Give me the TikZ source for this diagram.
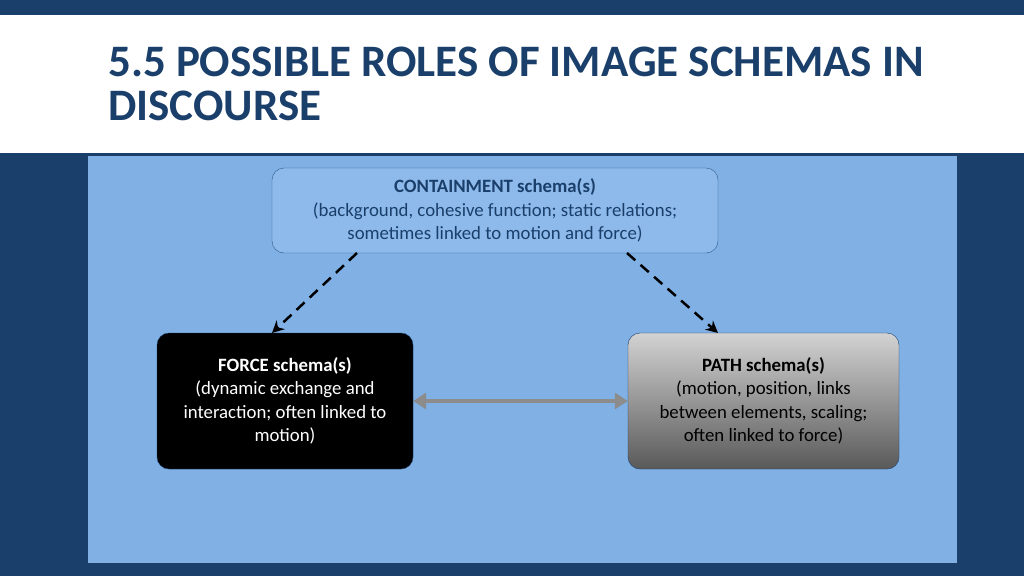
\documentclass[tikz,border=0pt]{standalone}
\usepackage{fontspec}
\setmainfont{Carlito}
\usetikzlibrary{arrows.meta}
\definecolor{navy}{HTML}{1B3F6B}
\definecolor{panel}{HTML}{80B0E4}
\definecolor{cbox}{HTML}{8DBAEA}
\definecolor{cborder}{HTML}{2E5A8C}
\begin{document}
\begin{tikzpicture}[x=1pt,y=-1pt,
  box/.style={rounded corners=12pt,align=center,font=\fontsize{18.8}{23.5}\selectfont,inner sep=0pt},
  dashline/.style={line width=2.5pt,dash pattern=on 11pt off 7pt,-{Stealth[length=12pt,width=12pt]}}]
\useasboundingbox (0,0) rectangle (1024,576);
\fill[navy] (0,0) rectangle (1024,576);
\fill[white] (0,15) rectangle (1024,153);
\fill[panel] (88,156) rectangle (957,563);
\node[anchor=west,text=navy,font=\fontsize{45}{44}\selectfont\bfseries,align=left,inner sep=0pt] (title) at (108,84) {5.5 POSSIBLE ROLES OF IMAGE SCHEMAS IN\\DISCOURSE};
\node[box,draw=cborder,fill=cbox,text=navy,minimum width=446pt,minimum height=85pt] (c) at (495,210.5)
 {\textbf{CONTAINMENT schema(s)}\\(background, cohesive function; static relations;\\sometimes linked to motion and force)};
\node[box,draw=navy,fill=black,text=white,minimum width=256pt,minimum height=136pt] (f) at (285,401)
 {\textbf{FORCE schema(s)}\\(dynamic exchange and\\interaction; often linked to\\motion)};
\shade[top color=gray!35,bottom color=gray!70!black,rounded corners=12pt,draw=navy] (628,333) rectangle (899,469);
\node[box,text=black,minimum width=271pt,minimum height=136pt] (p) at (763.5,401) {\textbf{PATH schema(s)}\\(motion, position, links\\between elements, scaling;\\often linked to force)};
\coordinate (c1) at (357,253); \coordinate (f1) at (272,333);
\coordinate (c2) at (627,253); \coordinate (p1) at (718,333);
\draw[dashline] (c1) -- (f1);
\draw[dashline] (c2) -- (p1);
\draw[line width=4.5pt,color=gray!90,{Triangle[length=13pt,width=16pt]}-{Triangle[length=13pt,width=16pt]}] (f.east) -- (p.west);
\end{tikzpicture}
\end{document}
